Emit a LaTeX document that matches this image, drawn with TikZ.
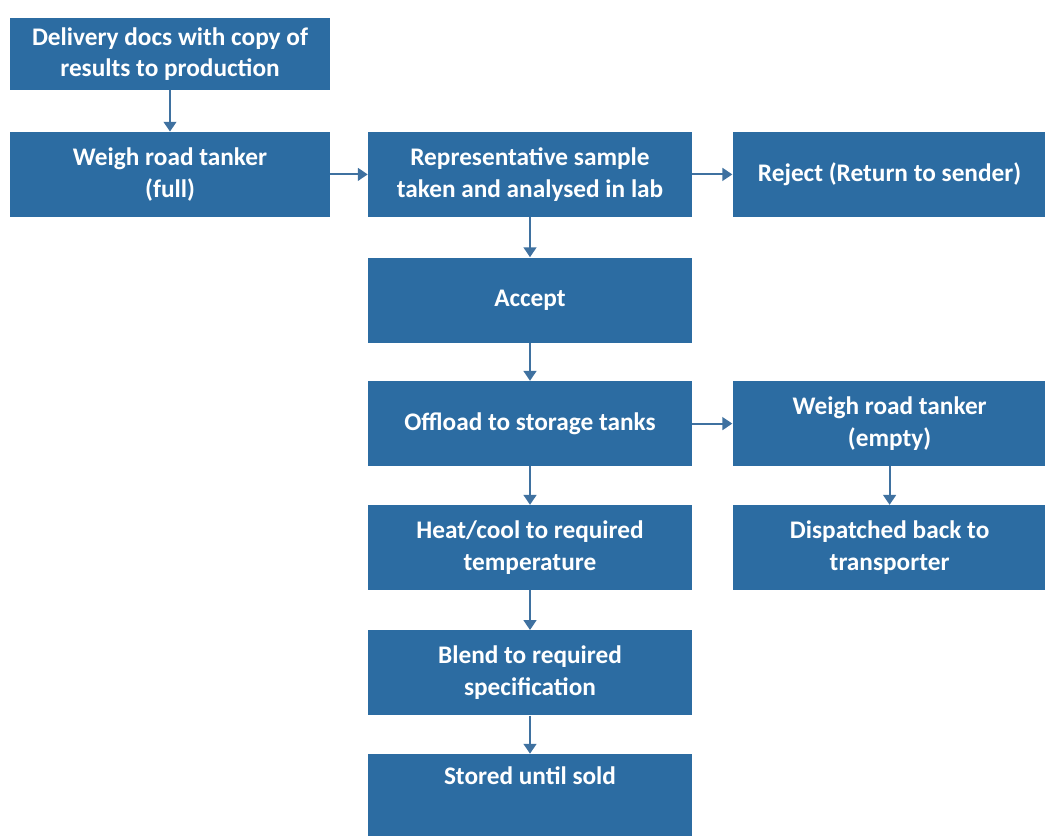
\documentclass[tikz,border=0pt]{standalone}
\usepackage{fontspec}
\setmainfont{Carlito}
\usetikzlibrary{arrows.meta, positioning}
\definecolor{boxblue}{HTML}{2C6CA2}
\definecolor{arrowblue}{HTML}{3F71A0}

\tikzset{
  box/.style={fill=boxblue, text=white, font=\fontsize{18}{22.5}\selectfont\bfseries,
    minimum width=8.1cm, minimum height=2.125cm, align=center, inner sep=2pt},
  link/.style={draw=arrowblue, line width=1.5pt, -{Triangle[length=7pt, width=9pt]}}
}

\begin{document}
\begin{tikzpicture}
            \useasboundingbox (0,0) rectangle (26.125,-20.9);
            \node[box, minimum width=8cm, minimum height=1.8cm] (docs) at (4.25,-1.35) {Delivery docs with copy of\\results to production};
            \node[box, minimum width=8cm] (full) at (4.25,-4.36) {Weigh road tanker\\(full)};
            \node[box] (sample) at (13.25,-4.36) {Representative sample\\taken and analysed in lab};
            \node[box, minimum width=7.85cm] (reject) at (22.24,-4.36) {Reject (Return to sender)};
            \node[box] (accept) at (13.25,-7.5) {Accept};

            \node[box] (offload) at (13.25,-10.59) {Offload to storage tanks};
            \node[box, minimum width=7.85cm] (empty) at (22.24,-10.59) {Weigh road tanker\\(empty)};
            \node[box] (heat) at (13.25,-13.69) {Heat/cool to required\\temperature};
            \node[box, minimum width=7.85cm] (dispatch) at (22.24,-13.69) {Dispatched back to\\transporter};
            \node[box] (blend) at (13.25,-16.82) {Blend to required\\specification};
            \node[box, minimum height=2.1cm] (stored) at (13.25,-19.9) {Stored until sold\\\strut};

            \draw[link] (docs) -- (full);
            \draw[link] (full) -- (sample);
            \draw[link] (sample) -- (reject);
            \draw[link] (sample) -- (accept);
            \draw[link] (accept) -- (offload);

            \draw[link] (offload) -- (empty);
            \draw[link] (offload) -- (heat);
            \draw[link] (empty) -- (dispatch);
            \draw[link] (heat) -- (blend);
            \draw[link] (blend) -- (stored);
        \end{tikzpicture}
\end{document}
